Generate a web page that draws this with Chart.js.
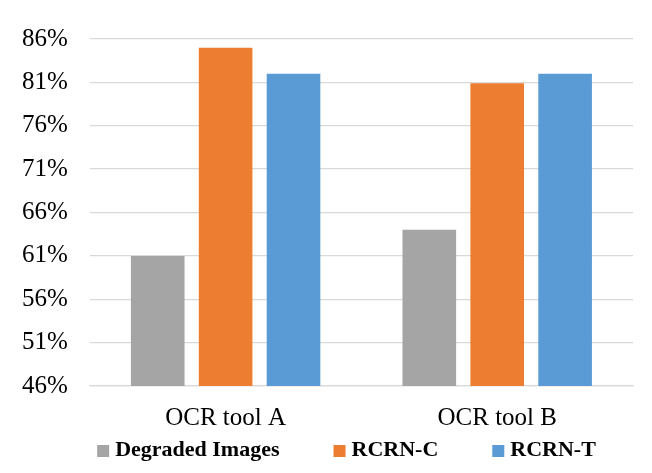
<!DOCTYPE html>
<html>
<head>
<meta charset="utf-8">
<script src="https://cdn.jsdelivr.net/npm/chart.js@4.4.1/dist/chart.umd.min.js"></script>
<style>
html,body{margin:0;padding:0;background:#fff;}
#wrap{width:652px;height:473px;position:relative;}
</style>
</head>
<body>
<div id="wrap"><canvas id="c" width="652" height="473"></canvas></div>
<script>
const categories = ['OCR tool A', 'OCR tool B'];
const seriesNames = ['Degraded Images', 'RCRN-C', 'RCRN-T'];
const degraded = [61, 64];
const rcrnC = [85, 80.9];
const rcrnT = [82, 82];
const yMin = 46, yMax = 86, yStep = 5;
const colors = ['#a5a5a5', '#ed7d31', '#5b9bd5'];

const FONT = '"Liberation Serif", "Times New Roman", serif';

const legendPlugin = {
  id: 'customLegend',
  afterDraw(chart) {
    const ctx = chart.ctx;
    ctx.save();
    ctx.font = 'bold 22px ' + FONT;
    ctx.textBaseline = 'middle';
    ctx.textAlign = 'left';
    const box = 12, gapText = 6, gapItem = 54;
    const items = chart.data.datasets.map(d => ({text: d.label, color: d.backgroundColor, w: ctx.measureText(d.label).width}));
    let total = 0;
    items.forEach((it, i) => { total += box + gapText + it.w + (i ? gapItem : 0); });
    let x = 346.5 - total / 2;
    const yc = 450;
    items.forEach(it => {
      ctx.fillStyle = it.color;
      ctx.fillRect(x, yc - 5, box, box);
      ctx.fillStyle = '#000';
      ctx.fillText(it.text, x + box + gapText, yc);
      x += box + gapText + it.w + gapItem;
    });
    ctx.restore();
  }
};

new Chart(document.getElementById('c'), {
  type: 'bar',
  data: {
    labels: categories,
    datasets: [
      {label: seriesNames[0], data: degraded, backgroundColor: colors[0]},
      {label: seriesNames[1], data: rcrnC, backgroundColor: colors[1]},
      {label: seriesNames[2], data: rcrnT, backgroundColor: colors[2]}
    ]
  },
  options: {
    responsive: false,
    animation: false,
    devicePixelRatio: 1,
    layout: {padding: {top: 39, left: 0, right: 19, bottom: 23}},
    datasets: {bar: {categoryPercentage: 0.75, barPercentage: 0.79}},
    plugins: {legend: {display: false}, tooltip: {enabled: false}},
    scales: {
      x: {
        grid: {display: false, drawTicks: false},
        border: {display: true, color: '#d9d9d9', width: 1.3},
        ticks: {color: '#000', font: {family: FONT, size: 25}, padding: 17}
      },
      y: {
        min: yMin, max: yMax,
        grid: {color: '#d9d9d9', lineWidth: 1.3, drawTicks: false},
        border: {display: false},
        ticks: {stepSize: yStep, color: '#000', font: {family: FONT, size: 25}, padding: 22,
          callback: v => v + '%'}
      }
    }
  },
  plugins: [legendPlugin]
});
</script>
</body>
</html>
